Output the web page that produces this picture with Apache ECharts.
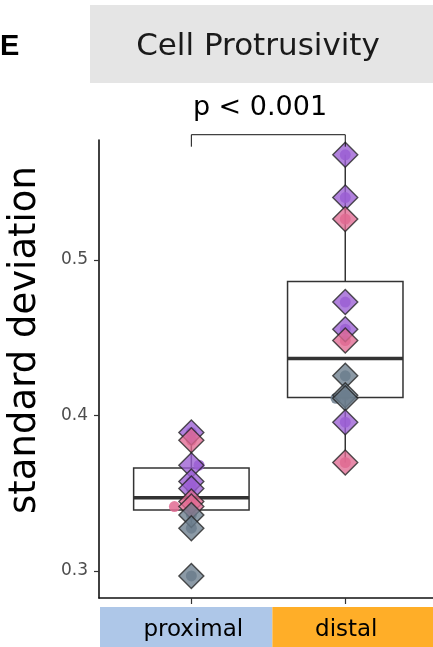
<!DOCTYPE html>
<html>
<head>
<meta charset="utf-8">
<script src="https://cdn.jsdelivr.net/npm/echarts@6/dist/echarts.min.js"></script>
<style>
html, body { margin: 0; padding: 0; background: #fff; }
#chart { width: 433px; height: 647px; }
</style>
</head>
<body>
<div id="chart"></div>
<script>
// categories and their strip colours
const categories = ['proximal', 'distal'];
const stripColors = ['#aec7e8', '#ffae28'];

// point values per category, with replicate group and dot jitter
const proximalValues = [0.389, 0.384, 0.368, 0.3575, 0.353, 0.3446, 0.3414, 0.336, 0.3275, 0.2968];
const proximalGroups = ['A', 'B', 'A', 'A', 'A', 'B', 'B', 'C', 'C', 'C'];
const proximalJitter = [0, 0, 0.05, 0, 0, 0, -0.11, 0, 0, 0];

const distalValues = [0.5675, 0.540, 0.5262, 0.4728, 0.4554, 0.4481, 0.4254, 0.413, 0.411, 0.3956, 0.3697];
const distalGroups = ['A', 'A', 'B', 'A', 'A', 'B', 'C', 'C', 'C', 'A', 'B'];
const distalJitter = [0, 0, 0, 0, 0, 0, 0, 0, -0.06, 0, 0];

const groupColors = { A: '#9b5fd3', B: '#e06a92', C: '#6b7d8d' };

// boxplot stats: [lower whisker, q1, median, q3, upper whisker]
const proximalBox = [0.3275, 0.3392, 0.347, 0.3662, 0.389];
const distalBox = [0.3697, 0.4115, 0.4365, 0.486, 0.5675];

const yTicks = [0.3, 0.4, 0.5];
const pText = 'p < 0.001';

let chart = echarts.init(document.getElementById('chart'));

let groups = [
  { x: 1, vals: proximalValues, grp: proximalGroups, jit: proximalJitter, box: proximalBox },
  { x: 2, vals: distalValues, grp: distalGroups, jit: distalJitter, box: distalBox }
];

let diamonds = [], dots = [], boxes = [];
groups.forEach(function (g) {
  boxes.push([g.x].concat(g.box));
  g.vals.forEach(function (v, i) {
    diamonds.push({ value: [g.x, v], itemStyle: { color: groupColors[g.grp[i]] } });
    dots.push({ value: [g.x + g.jit[i], v], itemStyle: { color: groupColors[g.grp[i]] } });
  });
});

function renderBox(params, api) {
  let x = api.value(0);
  let half = 0.375;
  let lo = api.coord([x, api.value(1)]);
  let q1 = api.coord([x - half, api.value(2)]);
  let med = api.coord([x - half, api.value(3)]);
  let q3 = api.coord([x + half, api.value(4)]);
  let hi = api.coord([x, api.value(5)]);
  let left = q1[0], right = q3[0];
  let stroke = { stroke: '#333', lineWidth: 1.5 };
  return {
    type: 'group',
    children: [
      { type: 'line', shape: { x1: lo[0], y1: lo[1], x2: lo[0], y2: q1[1] }, style: stroke },
      { type: 'line', shape: { x1: hi[0], y1: hi[1], x2: hi[0], y2: q3[1] }, style: stroke },
      { type: 'rect', shape: { x: left, y: q3[1], width: right - left, height: q1[1] - q3[1] },
        style: { fill: '#fff', stroke: '#333', lineWidth: 1.5 } },
      { type: 'line', shape: { x1: left, y1: med[1], x2: right, y2: med[1] },
        style: { stroke: '#333', lineWidth: 3.5 } }
    ]
  };
}

let option = {
  animation: false,
  grid: { left: 99, top: 140, right: 0, bottom: 49 },
  xAxis: {
    type: 'value',
    min: 0.4,
    max: 2.57,
    axisLine: { show: true, onZero: false, lineStyle: { color: '#111', width: 1.6 } },
    axisTick: { show: true, customValues: [1, 2], length: 6, lineStyle: { color: '#333', width: 1.2 } },
    axisLabel: { show: false },
    splitLine: { show: false }
  },
  yAxis: {
    type: 'value',
    min: 0.2826,
    max: 0.577,
    axisLine: { show: true, onZero: false, lineStyle: { color: '#111', width: 1.6 } },
    axisTick: { show: true, customValues: yTicks, length: 5, lineStyle: { color: '#333', width: 1.2 } },
    axisLabel: {
      customValues: yTicks,
      formatter: function (v) { return v.toFixed(1); },
      color: '#4d4d4d',
      fontFamily: 'DejaVu Sans',
      fontSize: 17,
      margin: 11
    },
    splitLine: { show: false }
  },
  series: [
    {
      type: 'custom',
      renderItem: renderBox,
      data: boxes,
      z: 1
    },
    {
      type: 'scatter',
      symbol: 'circle',
      symbolSize: 11,
      data: dots,
      itemStyle: { opacity: 0.85 },
      z: 2
    },
    {
      type: 'scatter',
      symbol: 'diamond',
      symbolSize: 25,
      data: diamonds,
      itemStyle: { opacity: 0.78, borderColor: '#222', borderWidth: 1.4 },
      z: 3
    },
    {
      // significance bracket
      type: 'line',
      clip: false,
      symbol: 'none',
      lineStyle: { color: '#111', width: 1 },
      data: [[1, 0.5727], [1, 0.5804], [2, 0.5804], [2, 0.5727]],
      z: 4
    }
  ],
  graphic: [
    { type: 'text', left: 0, top: 32, style: { text: 'E', font: 'bold 29px "Liberation Sans", Arial', fill: '#000' } },
    { type: 'rect', shape: { x: 90, y: 5, width: 343, height: 78 }, style: { fill: '#e5e5e5' } },
    { type: 'text', x: 258, y: 47, style: { text: 'Cell Protrusivity', font: '31px "DejaVu Sans"', fill: '#1a1a1a', align: 'center', verticalAlign: 'middle' } },
    { type: 'text', x: 260, y: 108, style: { text: pText, font: '27px "DejaVu Sans"', fill: '#000', align: 'center', verticalAlign: 'middle' } },
    { type: 'text', x: 25, y: 340, rotation: Math.PI / 2, style: { text: 'standard deviation', font: '37px "DejaVu Sans"', fill: '#000', align: 'center', verticalAlign: 'middle' } }
  ]
};

chart.setOption(option);

// category strips under the x axis, placed from the x scale
let edges = [0.4, 1.52, 2.57].map(function (v) { return chart.convertToPixel({ xAxisIndex: 0 }, v); });
let strips = [];
categories.forEach(function (c, i) {
  let cx = chart.convertToPixel({ xAxisIndex: 0 }, i + 1);
  strips.push({ type: 'rect', shape: { x: edges[i] + 1, y: 607, width: edges[i + 1] - edges[i] + (i === 0 ? 0 : 2), height: 40 }, style: { fill: stripColors[i] } });
  strips.push({ type: 'text', x: cx + (i === 0 ? 2 : 1), y: 630, style: { text: c, font: '23px "DejaVu Sans"', fill: '#000', align: 'center', verticalAlign: 'middle' } });
});
chart.setOption({ graphic: option.graphic.concat(strips) });

window.addEventListener('resize', function () { chart.resize(); });
</script>
</body>
</html>
